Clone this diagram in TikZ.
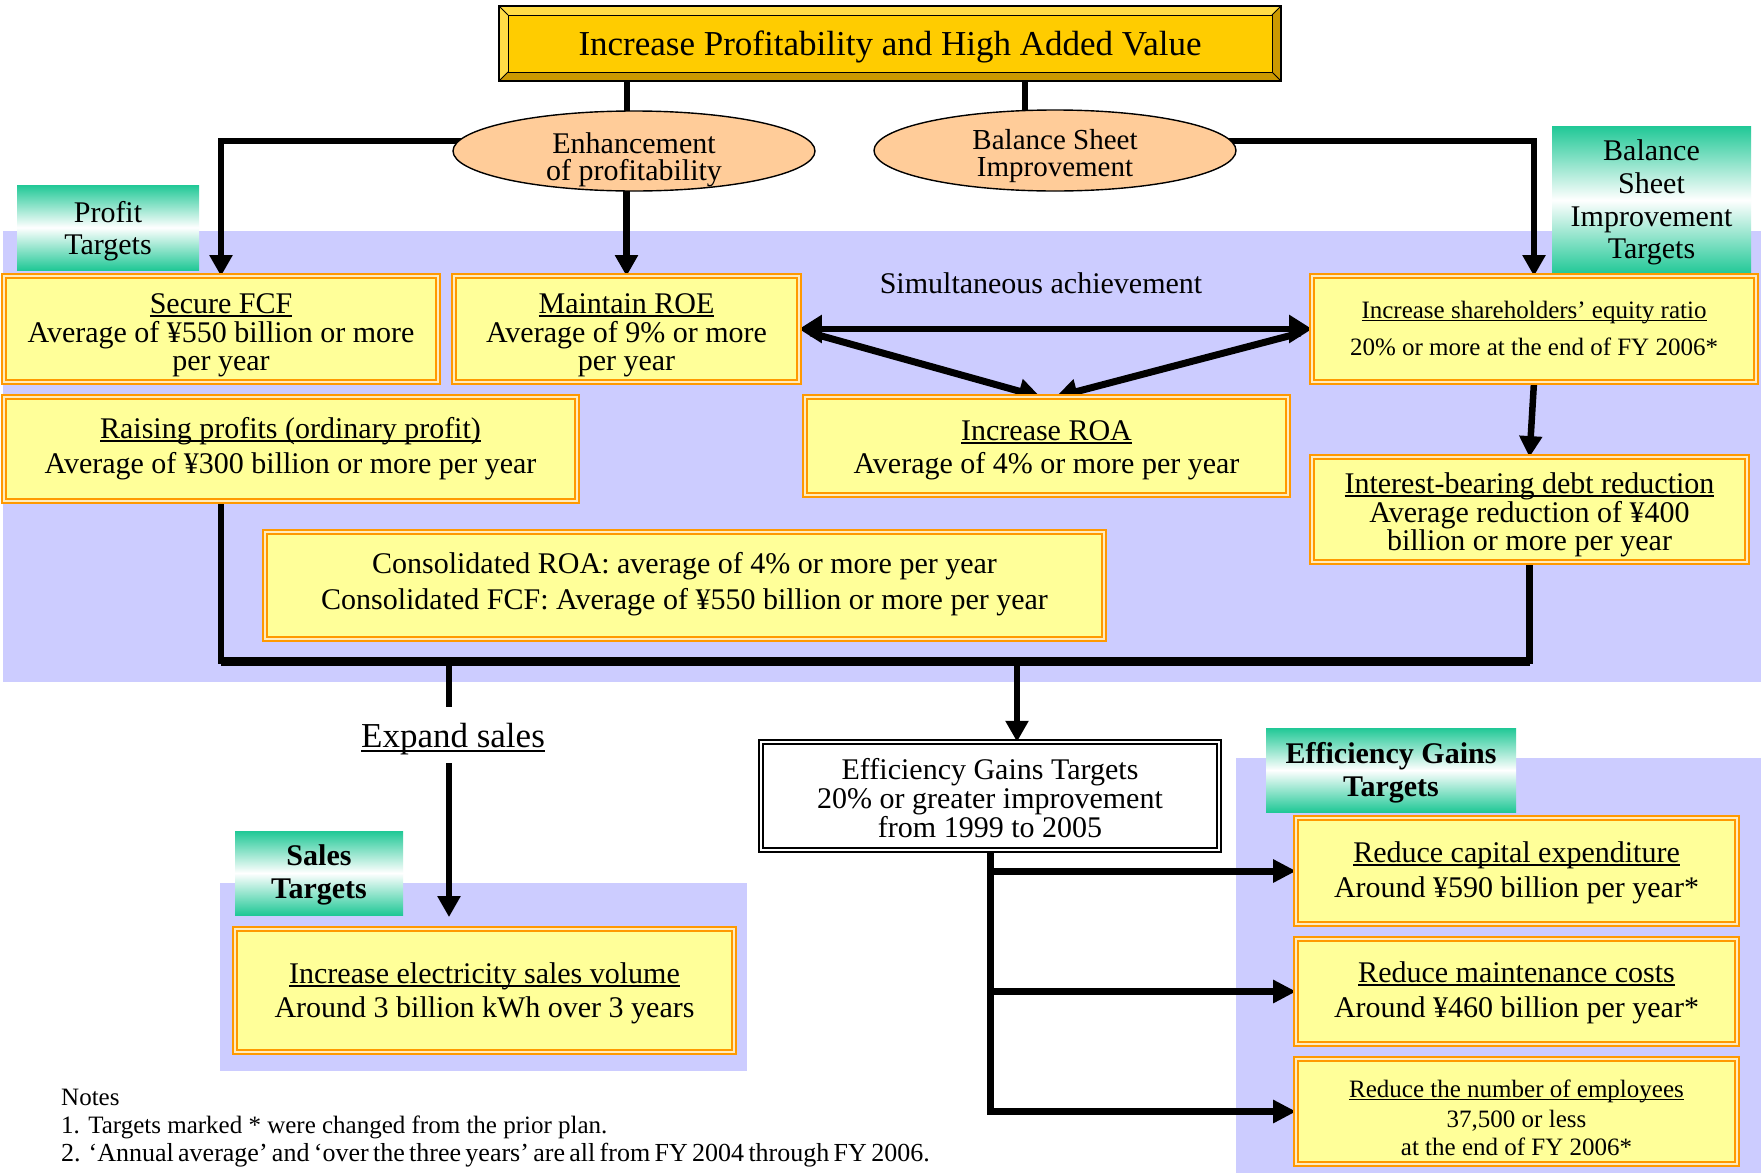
\documentclass[tikz,border=0pt]{standalone}
\usepackage{fontspec}
\setmainfont{Liberation Serif}
\usetikzlibrary{shapes.geometric,arrows.meta,calc}
\definecolor{lav}{RGB}{204,204,255}
\definecolor{yfill}{RGB}{255,255,153}
\definecolor{orng}{RGB}{255,153,0}
\definecolor{olite}{RGB}{255,236,190}
\definecolor{tealc}{RGB}{32,200,150}
\definecolor{peach}{RGB}{255,204,153}
\definecolor{gold}{RGB}{255,204,0}
\definecolor{goldlt}{RGB}{255,220,70}
\definecolor{golddk}{RGB}{204,153,0}
\newcommand\ulA[1]{\setbox0=\hbox{#1}\rlap{\rule[-3.5pt]{\wd0}{1.4pt}}\box0}
\newcommand\ulB[1]{\setbox0=\hbox{#1}\rlap{\rule[-3pt]{\wd0}{1.2pt}}\box0}
\newcommand\ulC[1]{\setbox0=\hbox{#1}\rlap{\rule[-5pt]{\wd0}{2pt}}\box0}
\pgfdeclarelayer{bg}
\pgfdeclarelayer{lines}
\pgfsetlayers{bg,lines,main}
\begin{document}
\begin{tikzpicture}[x=1pt,y=-1pt,
  ybox/.style={rectangle, inner sep=0pt, outer sep=0pt, fill=yfill, draw=orng, line width=2.4pt, double=olite, double distance=1.4pt},
  lbl/.style={rectangle, inner sep=0pt, outer sep=0pt, top color=tealc, bottom color=tealc, middle color=white},
  tx/.style={anchor=base, inner sep=0pt, outer sep=0pt, font=\fontsize{30}{36}\selectfont},
  txs/.style={tx, font=\fontsize{25}{30}\selectfont},
  txm/.style={tx, font=\fontsize{29}{33}\selectfont},
  txb/.style={tx, font=\fontsize{30}{36}\selectfont\bfseries},
  txl/.style={tx, font=\fontsize{35}{40}\selectfont},
  conn/.style={line width=6.5pt, draw=black},
  arr/.style={conn, -{Triangle[length=21pt,width=22pt]}},
  oval/.style={ellipse, draw=black, line width=1.4pt, fill=peach, inner sep=0pt, outer sep=0pt}]
\useasboundingbox (0,0) rectangle (1761,1173);
\begin{pgfonlayer}{bg}
  \fill[white] (0,0) rectangle (1761,1173);
  \fill[lav] (3,231) rectangle (1761,682);
  \fill[lav] (220,883) rectangle (747,1071);
  \fill[lav] (1236,758) rectangle (1761,1173);
\end{pgfonlayer}

% title
\node[rectangle, minimum width=782pt, minimum height=75pt, inner sep=0pt, outer sep=0pt, fill=gold] (title) at (890,43.5) {};
\fill[goldlt] (title.north west) -- (title.north east) -- ([xshift=-9pt,yshift=-9pt]title.north east) -- ([xshift=9pt,yshift=-9pt]title.north west) -- cycle;
\fill[goldlt] (title.north west) -- ([xshift=9pt,yshift=-9pt]title.north west) -- ([xshift=9pt,yshift=9pt]title.south west) -- (title.south west) -- cycle;
\fill[golddk] (title.south west) -- (title.south east) -- ([xshift=-9pt,yshift=9pt]title.south east) -- ([xshift=9pt,yshift=9pt]title.south west) -- cycle;
\fill[golddk] (title.north east) -- ([xshift=-9pt,yshift=-9pt]title.north east) -- ([xshift=-9pt,yshift=9pt]title.south east) -- (title.south east) -- cycle;
\draw[line width=1pt] ([xshift=9pt,yshift=-9pt]title.north west) rectangle ([xshift=-9pt,yshift=9pt]title.south east);
\draw[line width=0.8pt] (title.north west) -- ([xshift=9pt,yshift=-9pt]title.north west)
  (title.north east) -- ([xshift=-9pt,yshift=-9pt]title.north east)
  (title.south west) -- ([xshift=9pt,yshift=9pt]title.south west)
  (title.south east) -- ([xshift=-9pt,yshift=9pt]title.south east);
\draw[line width=1.4pt] (title.north west) rectangle (title.south east);
\node[txl] (titletxt) at (890,55) {Increase Profitability and High Added Value};

% ellipses
\node[oval, minimum width=362pt, minimum height=80pt] (enh) at (634,151) {};
\node[tx] (enhA) at (634,153) {Enhancement};
\node[tx] (enhB) at (634,180) {of profitability};
\node[oval, minimum width=362pt, minimum height=81pt] (bsel) at (1055,150.5) {};
\node[txm] (bselA) at (1055,149) {Balance Sheet};
\node[txm] (bselB) at (1055,176) {Improvement};

% labels
\node[lbl, minimum width=182pt, minimum height=85pt] (profl) at (108,227.5) {};
\node[tx] (proflA) at (108,222) {Profit};
\node[tx] (proflB) at (108,254) {Targets};
\node[lbl, minimum width=199pt, minimum height=148pt] (bsl) at (1651.5,200) {};
\node[tx] (bslA) at (1651.5,160) {Balance};
\node[tx] (bslB) at (1651.5,193) {Sheet};
\node[tx] (bslC) at (1651.5,226) {Improvement};
\node[tx] (bslD) at (1651.5,258) {Targets};
\node[lbl, minimum width=250pt, minimum height=84pt] (effl) at (1391,770) {};
\node[txb] (efflA) at (1391,763) {Efficiency Gains};
\node[txb] (efflB) at (1391,796) {Targets};
\node[lbl, minimum width=168pt, minimum height=84pt] (salesl) at (319,873) {};
\node[txb] (saleslA) at (319,865) {Sales};
\node[txb] (saleslB) at (319,898) {Targets};

% yellow boxes
\node[ybox, minimum width=433.8pt, minimum height=105.8pt] (fcf) at (221,329) {};
\node[tx] (fcfA) at (221,313) {\ulA{Secure FCF}};
\node[tx] (fcfB) at (221,342) {Average of ¥550 billion or more};
\node[tx] (fcfC) at (221,370) {per year};

\node[ybox, minimum width=344.8pt, minimum height=105.8pt] (maint) at (626.5,329) {};
\node[tx] (maintA) at (626.5,313) {\ulA{Maintain ROE}};
\node[tx] (maintB) at (626.5,342) {Average of 9\% or more};
\node[tx] (maintC) at (626.5,370) {per year};

\node[ybox, minimum width=572.8pt, minimum height=103.8pt] (raise) at (290.5,449) {};
\node[tx] (raiseA) at (290.5,438) {\ulA{Raising profits (ordinary profit)}};
\node[tx] (raiseB) at (290.5,473) {Average of ¥300 billion or more per year};

\node[ybox, minimum width=482.8pt, minimum height=97.8pt] (roa) at (1046.5,446) {};
\node[tx] (roaA) at (1046.5,440) {\ulA{Increase ROA}};
\node[tx] (roaB) at (1046.5,473) {Average of 4\% or more per year};

\node[ybox, minimum width=443.8pt, minimum height=105.8pt] (sh) at (1534,329) {};
\node[txs] (shA) at (1534,318) {\ulB{Increase shareholders’ equity ratio}};
\node[txs] (shB) at (1534,355) {20\% or more at the end of FY 2006*};

\node[ybox, minimum width=434.8pt, minimum height=104.8pt] (int) at (1529.5,509.5) {};
\node[tx] (intA) at (1529.5,493) {\ulA{Interest-bearing debt reduction}};
\node[tx] (intB) at (1529.5,522) {Average reduction of ¥400};
\node[tx] (intC) at (1529.5,550) {billion or more per year};

\node[ybox, minimum width=838.8pt, minimum height=106.8pt] (cons) at (684.5,585.5) {};
\node[tx] (consA) at (684.5,573) {Consolidated ROA: average of 4\% or more per year};
\node[tx] (consB) at (684.5,609) {Consolidated FCF: Average of ¥550 billion or more per year};

\node[ybox, minimum width=498.8pt, minimum height=122.8pt] (sales) at (484.5,990.5) {};
\node[tx] (salesA) at (484.5,983) {\ulA{Increase electricity sales volume}};
\node[tx] (salesB) at (484.5,1017) {Around 3 billion kWh over 3 years};

\node[ybox, minimum width=440.8pt, minimum height=105.8pt] (e1) at (1516.5,871) {};
\node[tx] (e1A) at (1516.5,862) {\ulA{Reduce capital expenditure}};
\node[tx] (e1B) at (1516.5,897) {Around ¥590 billion per year*};
\node[ybox, minimum width=440.8pt, minimum height=104.8pt] (e2) at (1516.5,991.5) {};
\node[tx] (e2A) at (1516.5,982) {\ulA{Reduce maintenance costs}};
\node[tx] (e2B) at (1516.5,1017) {Around ¥460 billion per year*};
\node[ybox, minimum width=440.8pt, minimum height=104.8pt] (e3) at (1516.5,1111.5) {};
\node[txs] (e3A) at (1516.5,1097) {\ulB{Reduce the number of employees}};
\node[txs] (e3B) at (1516.5,1127) {37,500 or less};
\node[txs] (e3C) at (1516.5,1155) {at the end of FY 2006*};

% efficiency white box
\node[rectangle, inner sep=0pt, outer sep=0pt, fill=white, draw=black, line width=1.8pt, double=white, double distance=2pt, minimum width=458.4pt, minimum height=108.4pt] (effbox) at (990,796) {};
\node[tx] (effA) at (990,779) {Efficiency Gains Targets};
\node[tx] (effB) at (990,808) {20\% or greater improvement};
\node[tx] (effC) at (990,837) {from 1999 to 2005};

% free texts
\node[tx] (simul) at (1041,293) {Simultaneous achievement};
\node[txl] (expand) at (453,747) {\ulC{Expand sales}};
\node[anchor=base west, inner sep=0pt, font=\fontsize{25}{30}\selectfont] (noteA) at (61,1105) {Notes};
\node[anchor=base west, inner sep=0pt, font=\fontsize{25}{30}\selectfont] (noteB) at (61,1133) {1. Targets marked * were changed from the prior plan.};
\node[anchor=base west, inner sep=0pt, font=\fontsize{26}{30}\selectfont] (noteC) at (61,1161) {\makebox[867pt][s]{2. ‘Annual average’ and ‘over the three years’ are all from FY 2004 through FY 2006.}};

\coordinate (barL) at (221,661);

% connectors
\begin{pgfonlayer}{lines}
  \draw[conn] ([xshift=-7pt]enh.north |- title.south) -- ([xshift=-7pt,yshift=-4pt]enh.north);
  \draw[conn] ([xshift=-30pt]bsel.north |- title.south) -- ([xshift=-30pt,yshift=-4pt]bsel.north);
  \draw[arr] ([yshift=10pt]enh.center) -| (fcf.north);
  \draw[arr] (enh.center -| maint.north) -- (maint.north);
  \draw[arr] ([yshift=9.5pt]bsel.center) -| (sh.north);
  \draw[arr] (sh.south) -- (int.north);
  \draw[conn, {Triangle[length=23pt,width=27pt]}-{Triangle[length=23pt,width=27pt]}] (maint.east) -- (sh.west);
  \draw[conn, line width=7pt, -{Triangle[length=22pt,width=24pt]}] ([xshift=12pt,yshift=-4pt]maint.east) -- ([xshift=-6pt]roa.north);
  \draw[conn, line width=7pt, -{Triangle[length=22pt,width=24pt]}] ([xshift=-12pt,yshift=-4pt]sh.west) -- ([xshift=9pt]roa.north);
  \draw[conn] (fcf.north |- raise.south) -- (fcf.north |- barL) -- (int.south |- barL) -- (int.south);
  \draw[line width=9pt] (fcf.north |- barL) -- (int.south |- barL);
  \draw[conn] ([xshift=-4pt]expand.north |- barL) -- ([xshift=-4pt,yshift=16pt]expand.north);
  \draw[arr] ([xshift=-4pt,yshift=-9pt]expand.south) -- ($(expand.south |- sales.north)+(-4,-12)$);
  \draw[arr] ([xshift=27pt]effbox.north |- barL) -- ([xshift=27pt]effbox.north);
  \draw[conn, line width=7pt, -{Triangle[length=23pt,width=22pt]}] (effbox.south) -- (effbox.south |- e3.west) -- (e3.west);
  \draw[conn, line width=7pt, -{Triangle[length=23pt,width=22pt]}] (effbox.south |- e1.west) -- (e1.west);
  \draw[conn, line width=7pt, -{Triangle[length=23pt,width=22pt]}] (effbox.south |- e2.west) -- (e2.west);
\end{pgfonlayer}
\end{tikzpicture}
\end{document}
